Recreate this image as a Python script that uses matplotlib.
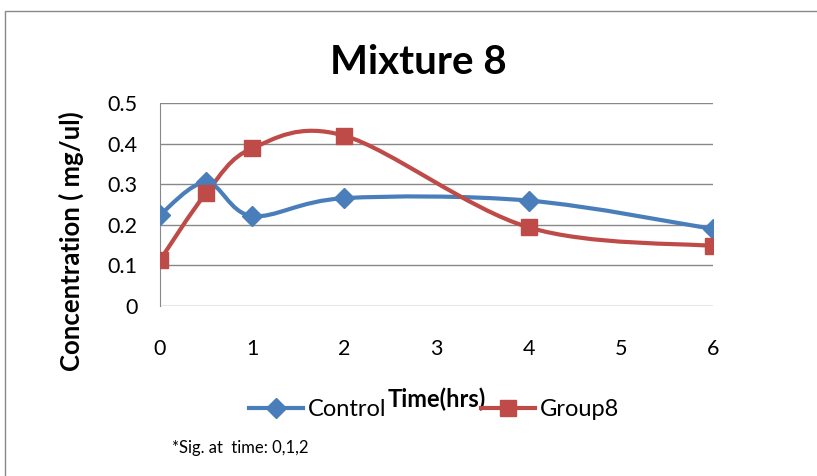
import numpy as np
import matplotlib.pyplot as plt
from matplotlib.path import Path
from matplotlib.patches import PathPatch, Rectangle
from matplotlib.lines import Line2D

plt.rcParams['font.family'] = ['Lato', 'DejaVu Sans']

# data
time_hrs = [0, 0.5, 1, 2, 4, 6]
control = [0.225, 0.305, 0.222, 0.266, 0.26, 0.19]
group8 = [0.113, 0.278, 0.389, 0.42, 0.194, 0.148]
series_names = ['Control', 'Group8']
x_ticks = [0, 1, 2, 3, 4, 5, 6]
y_ticks = [0, 0.1, 0.2, 0.3, 0.4, 0.5]

blue = '#4A7EBB'
red = '#BE4B48'


def smooth_path(xs, ys):
    # excel style smoothed line: bezier segments through every point
    pts = np.column_stack([xs, ys])
    n = len(pts)
    verts = [pts[0]]
    codes = [Path.MOVETO]
    for i in range(n - 1):
        p0 = pts[i - 1] if i > 0 else pts[i]
        p1 = pts[i]
        p2 = pts[i + 1]
        p3 = pts[i + 2] if i + 2 < n else pts[i + 1]
        c1 = p1 + (p2 - p0) / 6
        c2 = p2 - (p3 - p1) / 6
        verts += [c1, c2, p2]
        codes += [Path.CURVE4] * 3
    return Path(verts, codes)


fig = plt.figure(figsize=(8.17, 4.76), dpi=100)
ax = fig.add_axes([160 / 817, 1 - 306 / 476, 553 / 817, 202.7 / 476])

for ys, col, mk, ms in [(control, blue, 'D', 10), (group8, red, 's', 12)]:
    ax.add_patch(PathPatch(smooth_path(time_hrs, ys), fill=False, edgecolor=col,
                           lw=3, capstyle='round', joinstyle='round', zorder=3))
    ax.plot(time_hrs, ys, linestyle='none', marker=mk, markersize=ms, color=col, zorder=4)

ax.set_xlim(0, 6)
ax.set_ylim(0, 0.5)
ax.set_xticks(x_ticks)
ax.set_yticks(y_ticks)
ax.set_yticklabels(['0', '0.1', '0.2', '0.3', '0.4', '0.5'])
ax.tick_params(length=0, labelsize=15.5)
ax.tick_params(axis='y', pad=16)
ax.tick_params(axis='x', pad=24)
ax.grid(axis='y', color='#888888', lw=1)
ax.set_axisbelow(True)
for s in ['top', 'right', 'bottom']:
    ax.spines[s].set_visible(False)
ax.spines['left'].set_color('#888888')

fig.text(418 / 817, 1 - 63 / 476, 'Mixture 8', ha='center', va='center',
         fontsize=29, fontweight='bold')
fig.text(71 / 817, 1 - 241 / 476, 'Concentration ( mg/ul)', ha='center', va='center',
         rotation=90, fontsize=18.5, fontweight='bold')
fig.text(437 / 817, 1 - 399 / 476, 'Time(hrs)', ha='center', va='center',
         fontsize=17, fontweight='bold')

handles = [Line2D([], [], color=blue, lw=3, marker='D', markersize=10),
           Line2D([], [], color=red, lw=3, marker='s', markersize=12)]
fig.legend(handles, series_names, loc='center', bbox_to_anchor=(434 / 817, 1 - 410 / 476),
           ncol=2, frameon=False, fontsize=17, handlelength=2.3, columnspacing=4,
           handletextpad=0.2)

fig.text(172 / 817, 1 - 448 / 476, '*Sig. at  time: 0,1,2', ha='left', va='center', fontsize=12)

fig.patches.append(Rectangle((5 / 817, -0.1), 1.2, 1.1 - 11 / 476, transform=fig.transFigure,
                             fill=False, edgecolor='#888888', lw=1))

fig.savefig('out.png', dpi=100)
